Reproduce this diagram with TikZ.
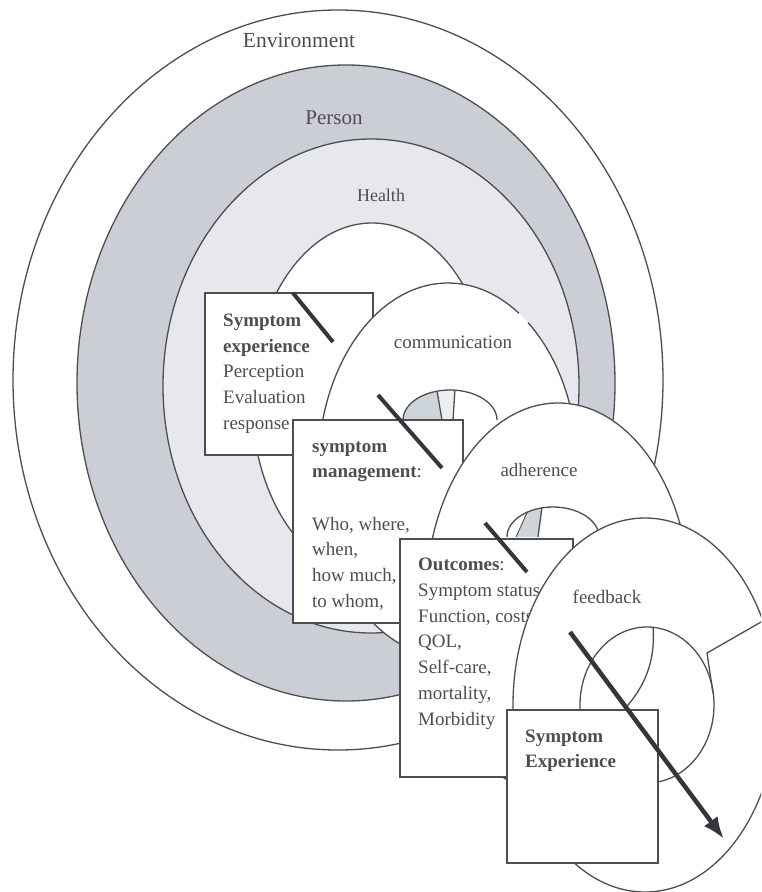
\documentclass[tikz,border=0pt]{standalone}
\usepackage{fontspec}
\setmainfont{Liberation Serif}
\usetikzlibrary{arrows.meta}
\definecolor{persongray}{RGB}{204,206,214}
\definecolor{healthgray}{RGB}{231,232,238}
\definecolor{wedgegray}{RGB}{206,213,218}
\definecolor{wedgelight}{RGB}{236,239,241}
\definecolor{linegray}{RGB}{78,78,82}
\definecolor{textgray}{RGB}{78,78,82}
\definecolor{slashgray}{RGB}{52,55,58}
\begin{document}
\begin{tikzpicture}[x=1pt,y=-1pt,
  outline/.style={draw=linegray, line width=1.3pt},
  boxstyle/.style={draw=linegray, line width=1.4pt, fill=white},
  slash/.style={draw=slashgray, line width=4pt},
  lbl/.style={text=textgray, inner sep=0pt, anchor=base, font=\fontsize{19}{23}\selectfont},
  boxtxt/.style={text=textgray, inner sep=0pt, anchor=base west, font=\fontsize{19}{23}\selectfont},
]
\useasboundingbox (0,0) rectangle (761,892);
\clip (0,0) rectangle (761,892);
\fill[white] (0,0) rectangle (761,892);

% nested context ellipses
\draw[outline, fill=white] (338,380) ellipse [x radius=325, y radius=370];
\draw[outline, fill=persongray] (346,383) ellipse [x radius=269, y radius=318];
\draw[outline, fill=healthgray] (371,386) ellipse [x radius=208, y radius=247];
\draw[outline, fill=white] (372,400) ellipse [x radius=120, y radius=177];

\node[lbl, font=\fontsize{21.5}{24}\selectfont] (env) at (299,47) {Environment};
\node[lbl, font=\fontsize{21}{24}\selectfont] (person) at (334,124) {Person};
\node[lbl, font=\fontsize{18}{22}\selectfont] (health) at (381,201) {Health};

% box 1
\draw[boxstyle] (205,293) rectangle (373,455);
\node[boxtxt] (b1a) at (223,326) {\textbf{Symptom}};
\node[boxtxt] (b1b) at (223,352) {\textbf{experience}};
\node[boxtxt] (b1c) at (223,377) {Perception};
\node[boxtxt] (b1d) at (223,403) {Evaluation};
\node[boxtxt] (b1e) at (223,429) {response};
\draw[slash] (293,293) -- (333,342);

% communication ellipse
\fill[white] (448,470) ellipse [x radius=130, y radius=187];
\draw[outline] (448,470) ++(-52:130 and 187) arc[start angle=-52, end angle=303, x radius=130, y radius=187];
\node[lbl] (comm) at (453,348) {communication};
\fill[wedgegray] (403,420) arc[start angle=180, end angle=254, x radius=47, y radius=30] -- (442,420) -- cycle;
\fill[wedgelight] (450,420) ++(254:47 and 30) arc[start angle=254, end angle=276, x radius=47, y radius=30] -- (453,420) -- (442,420) -- cycle;
\draw[outline] (403,420) arc[start angle=180, end angle=360, x radius=47, y radius=30];
\draw[outline] (450,420) ++(254:47 and 30) -- (442,420);
\draw[outline] (450,420) ++(276:47 and 30) -- (453,420);

% box 2
\draw[boxstyle] (293,420) rectangle (463,623);
\node[boxtxt] (b2a) at (312,452) {\textbf{symptom}};
\node[boxtxt] (b2b) at (312,477) {\textbf{management}:};
\node[boxtxt] (b2c) at (312,530) {Who, where,};
\node[boxtxt] (b2d) at (312,555) {when,};
\node[boxtxt] (b2e) at (312,581) {how much,};
\node[boxtxt] (b2f) at (312,607) {to whom,};
\draw[slash] (378,395) -- (442,468);

% adherence ellipse
\draw[outline, fill=white] (558,599) ellipse [x radius=132, y radius=196];
\node[lbl] (adh) at (539,476) {adherence};
\fill[wedgegray] (553,537) ++(236:46 and 30) arc[start angle=236, end angle=256, x radius=46, y radius=30] -- (538,537) -- (516,537) -- cycle;
\draw[outline] (507,537) arc[start angle=180, end angle=360, x radius=46, y radius=30];
\draw[outline, line width=0.9pt] (553,537) ++(236:46 and 30) -- (516,537);
\draw[outline] (553,537) ++(256:46 and 30) -- (538,537);

% box 3
\draw[boxstyle] (400,539) rectangle (573,777);
\node[boxtxt] (b3a) at (418,570) {\textbf{Outcomes}:};
\node[boxtxt] (b3b) at (418,596) {Symptom status,};
\node[boxtxt] (b3c) at (418,622) {Function, costs};
\node[boxtxt] (b3d) at (418,647) {QOL,};
\node[boxtxt] (b3e) at (418,673) {Self-care,};
\node[boxtxt] (b3f) at (418,699) {mortality,};
\node[boxtxt] (b3g) at (418,725) {Morbidity};
\draw[slash] (485,523) -- (527,572);

% feedback ellipse
\draw[outline, fill=white] (645,705) ellipse [x radius=132, y radius=187];
\node[lbl] (fb) at (607,603) {feedback};
\draw[outline] (647,705) ellipse [x radius=67, y radius=78];
\draw[outline] (653,627) .. controls (656,665) and (642,692) .. (618,716);
\draw[outline] (775,614) -- (707,653) -- (713,693);

% box 4
\draw[boxstyle] (507,710) rectangle (658,863);
\node[boxtxt] (b4a) at (525,742) {\textbf{Symptom}};
\node[boxtxt] (b4b) at (525,767) {\textbf{Experience}};

% arrow
\coordinate (arrS) at (570,632);
\coordinate (arrE) at (724,839);
\draw[draw=slashgray, line width=4.5pt, -{Latex[length=22pt,width=17pt]}] (arrS) -- (arrE);
\end{tikzpicture}
\end{document}
